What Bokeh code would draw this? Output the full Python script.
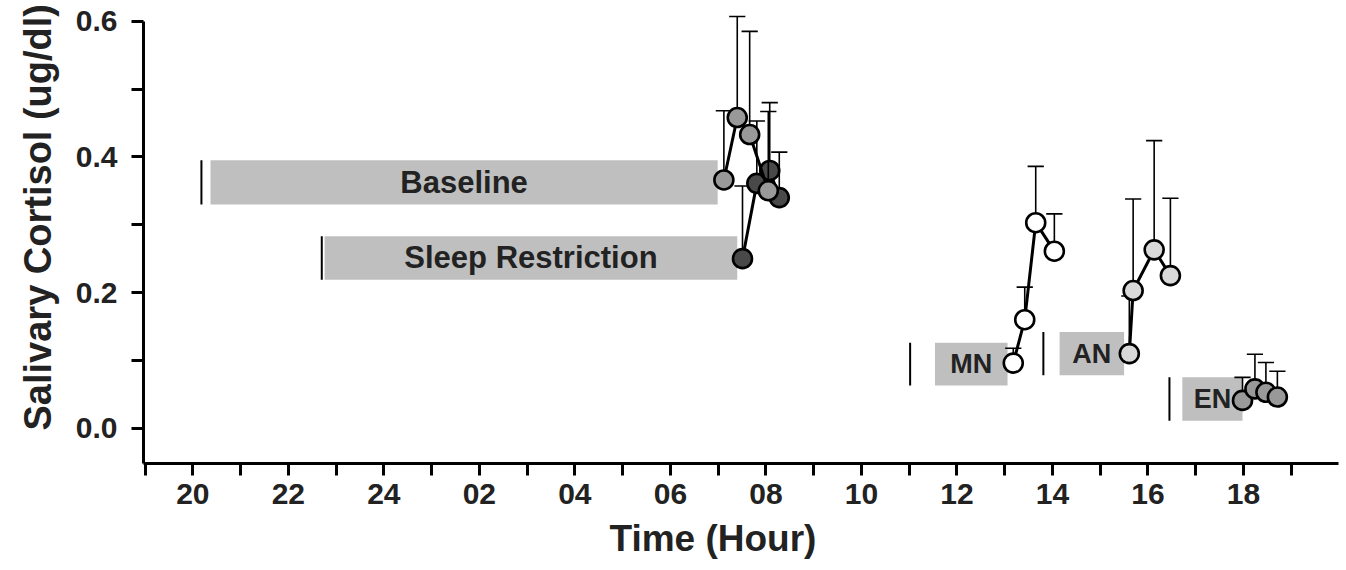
from bokeh.plotting import figure
from bokeh.models import FixedTicker, Range1d, ColumnDataSource, Title
from bokeh.core.properties import value
from bokeh.embed import file_html
from bokeh.resources import INLINE

# ---------------- data ----------------
# x in continuous clock hours (24 = midnight, 42 = 18:00 next day)
tick_hours = [20, 22, 24, 26, 28, 30, 32, 34, 36, 38, 40, 42]
tick_labels = ["20", "22", "24", "02", "04", "06", "08", "10", "12", "14", "16", "18"]
minor_hours = [19, 21, 23, 25, 27, 29, 31, 33, 35, 37, 39, 41, 43]
y_ticks = [0.0, 0.2, 0.4, 0.6]
y_tick_labels = ["0.0", "0.2", "0.4", "0.6"]
y_minor = [0.1, 0.3, 0.5]

baseline_hours = [31.12, 31.40, 31.66, 32.05]
baseline_mean = [0.366, 0.458, 0.433, 0.350]
baseline_err = [0.102, 0.149, 0.152, 0.117]

sleep_hours = [31.51, 31.81, 32.08, 32.28]
sleep_mean = [0.250, 0.361, 0.380, 0.340]
sleep_err = [0.107, 0.092, 0.100, 0.067]

mn_hours = [37.18, 37.42, 37.65, 38.04]
mn_mean = [0.096, 0.160, 0.303, 0.261]
mn_err = [0.022, 0.048, 0.083, 0.055]

an_hours = [39.61, 39.69, 40.13, 40.47]
an_mean = [0.110, 0.203, 0.263, 0.225]
an_err = [0.085, 0.135, 0.161, 0.114]

en_hours = [41.98, 42.24, 42.47, 42.71]
en_mean = [0.041, 0.058, 0.053, 0.046]
en_err = [0.034, 0.051, 0.044, 0.038]

period_labels = ["Baseline", "Sleep Restriction", "MN", "AN", "EN"]
period_start = [20.37, 22.76, 35.54, 38.15, 40.72]
period_end = [30.99, 31.40, 37.06, 39.50, 41.98]
period_bottom = [0.330, 0.219, 0.063, 0.078, 0.011]
period_top = [0.395, 0.283, 0.126, 0.142, 0.075]
period_marker = [20.18, 22.70, 35.02, 37.81, 40.45]
period_font = ["31px", "31px", "27px", "27px", "27px"]

x_title = "Time (Hour)"
y_title = "Salivary Cortisol (ug/dl)"

FONT = "Liberation Sans"

# ---------------- figure ----------------
p = figure(width=1342, height=568,
           x_range=Range1d(18.967, 43.99), y_range=Range1d(-0.052, 0.6114),
           output_backend="svg", toolbar_location=None,
           min_border_left=143, min_border_right=4,
           min_border_top=13, min_border_bottom=105)
p.outline_line_color = None
p.grid.visible = False
p.background_fill_color = "white"
p.border_fill_color = "white"

# x axis
xa = p.xaxis[0]
xa.ticker = FixedTicker(ticks=tick_hours, minor_ticks=minor_hours)
xa.major_label_overrides = {h: l for h, l in zip(tick_hours, tick_labels)}
# y axis
ya = p.yaxis[0]
ya.ticker = FixedTicker(ticks=y_ticks, minor_ticks=y_minor)
ya.major_label_overrides = {v: l for v, l in zip(y_ticks, y_tick_labels)}
ya.bounds = (-0.052, 0.6)

for ax in (xa, ya):
    ax.axis_line_width = 3
    ax.axis_line_color = "black"
    ax.major_tick_line_width = 3
    ax.minor_tick_line_width = 3
    ax.major_tick_line_color = "black"
    ax.minor_tick_line_color = "black"
    ax.major_tick_in = 0
    ax.minor_tick_in = 0
    ax.major_tick_out = 12
    ax.minor_tick_out = 12
    ax.major_label_text_font = FONT
    ax.major_label_text_font_style = "bold"
    ax.major_label_text_font_size = "30px"
    ax.major_label_text_color = "#222222"
xa.major_label_standoff = 8
ya.major_label_standoff = 14

# axis titles as side titles so they can be offset like the reference
p.add_layout(Title(text=x_title, align="left", offset=466, standoff=19,
                   text_font=FONT, text_font_style="bold",
                   text_font_size="37px", text_color="#222222"), "below")
p.add_layout(Title(text=y_title, align="left", offset=33, standoff=27,
                   text_font=FONT, text_font_style="bold",
                   text_font_size="38px", text_color="#222222"), "left")

# ---------------- period bars ----------------
psrc = ColumnDataSource(dict(
    left=period_start, right=period_end, bottom=period_bottom, top=period_top,
    mark=period_marker, label=period_labels, fs=period_font,
    cx=[(a + b) / 2 for a, b in zip(period_start, period_end)],
    cy=[(a + b) / 2 for a, b in zip(period_bottom, period_top)],
))
p.quad(left="left", right="right", bottom="bottom", top="top", source=psrc,
       fill_color="#bfbfbf", line_color=None)
p.segment(x0="mark", y0="bottom", x1="mark", y1="top", source=psrc,
          line_color="black", line_width=2)
p.text(x="cx", y="cy", text="label", source=psrc,
       text_font=value(FONT), text_font_style="bold", text_font_size="fs",
       text_color="#222222", text_align="center", text_baseline="middle")

# ---------------- series ----------------
CAP = 0.17


def draw(hours, mean, err, fill):
    top = [m + e for m, e in zip(mean, err)]
    src = ColumnDataSource(dict(x=hours, y=mean, top=top,
                                cl=[h - CAP for h in hours],
                                cr=[h + CAP for h in hours]))
    p.segment(x0="x", y0="y", x1="x", y1="top", source=src,
              line_color="black", line_width=1.6)
    p.segment(x0="cl", y0="top", x1="cr", y1="top", source=src,
              line_color="black", line_width=1.6)
    p.line(x="x", y="y", source=src, line_color="black", line_width=3)
    p.scatter(x="x", y="y", source=src, size=19, fill_color=fill,
              line_color="black", line_width=2.6)


draw(sleep_hours, sleep_mean, sleep_err, "#494949")
draw(baseline_hours, baseline_mean, baseline_err, "#999999")
draw(mn_hours, mn_mean, mn_err, "#ffffff")
draw(an_hours, an_mean, an_err, "#d9d9d9")
draw(en_hours, en_mean, en_err, "#999999")

open("out.html", "w").write(file_html(p, INLINE))
